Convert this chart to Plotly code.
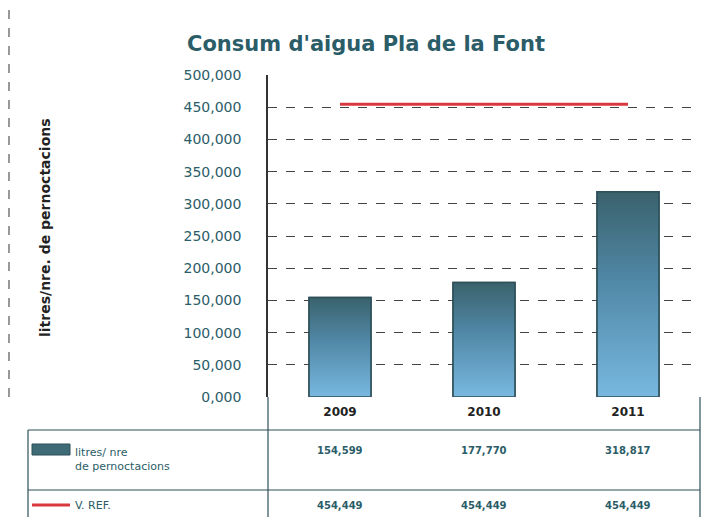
import plotly.graph_objects as go

# ---- data ----
years = ["2009", "2010", "2011"]
consum = [154599, 177770, 318817]
vref = [454449, 454449, 454449]
consum_labels = ["154,599", "177,770", "318,817"]
vref_labels = ["454,449", "454,449", "454,449"]
ytick_vals = [0, 50000, 100000, 150000, 200000, 250000, 300000, 350000, 400000, 450000, 500000]
ytick_text = ["0,000", "50,000", "100,000", "150,000", "200,000", "250,000",
              "300,000", "350,000", "400,000", "450,000", "500,000"]
title_text = "Consum d'aigua Pla de la Font"
ytitle_text = "litres/nre. de pernoctacions"
name_consum = "litres/ nre<br>de pernoctacions"
name_vref = "V. REF."

TEAL = "#2b5d68"
FONT = "DejaVu Sans"
OFF = 8  # page body margin
W, H = 709 - OFF, 517 - OFF
ML, MR, MT, MB = 268 - OFF, 9, 75 - OFF, 120
PW, PH = W - ML - MR, H - MT - MB


def px_x(p):
    return (p - OFF - ML) / PW


def px_y(p):
    return (H - MB - (p - OFF)) / PH


xs = list(range(len(years)))
bw = 0.43

fig = go.Figure()

fig.add_trace(go.Bar(x=xs, y=consum, width=bw, name="litres/ nre de pernoctacions",
                     marker=dict(color="#558fb0", line=dict(color="#2d4f58", width=1.5)),
                     showlegend=False))

# gradient overlay for each bar, built from the data values
for xi, v in zip(xs, consum):
    fig.add_trace(go.Scatter(
        x=[xi - bw / 2, xi + bw / 2, xi + bw / 2, xi - bw / 2, xi - bw / 2],
        y=[0, 0, v, v, 0], mode="lines", fill="toself",
        line=dict(color="#2d4f58", width=1.5),
        fillgradient=dict(type="vertical",
                          colorscale=[[0, "#78b8e0"], [0.55, "#5189a8"], [1, "#3a626c"]]),
        hoverinfo="skip", showlegend=False))

fig.add_trace(go.Scatter(x=xs, y=vref, mode="lines", name="V. REF.",
                         line=dict(color="#d9383f", width=3), showlegend=False))

annotations = []
shapes = []

# title
annotations.append(dict(text="<b>" + title_text + "</b>", xref="paper", yref="paper",
                        x=px_x(366), y=px_y(44), xanchor="center", yanchor="middle",
                        showarrow=False, font=dict(family=FONT, size=21, color=TEAL)))
# y title
annotations.append(dict(text="<b>" + ytitle_text + "</b>", xref="paper", yref="paper",
                        x=px_x(45), y=px_y(228), textangle=-90, xanchor="center",
                        yanchor="middle", showarrow=False,
                        font=dict(family=FONT, size=14, color="#222222")))

# data table values
for xi, t in zip(xs, consum_labels):
    annotations.append(dict(text="<b>" + t + "</b>", xref="x", yref="paper", x=xi,
                            y=px_y(450), yanchor="middle", showarrow=False,
                            font=dict(family=FONT, size=10, color=TEAL)))
for xi, t in zip(xs, vref_labels):
    annotations.append(dict(text="<b>" + t + "</b>", xref="x", yref="paper", x=xi,
                            y=px_y(505), yanchor="middle", showarrow=False,
                            font=dict(family=FONT, size=10, color=TEAL)))

# legend labels
annotations.append(dict(text=name_consum, xref="paper", yref="paper", x=px_x(73),
                        y=px_y(459), xanchor="left", yanchor="middle", align="left",
                        showarrow=False,
                        font=dict(family=FONT, size=11, color=TEAL)))
annotations.append(dict(text=name_vref, xref="paper", yref="paper", x=px_x(73),
                        y=px_y(505), xanchor="left", yanchor="middle", align="left",
                        showarrow=False,
                        font=dict(family=FONT, size=11, color=TEAL)))

# legend icons
shapes.append(dict(type="rect", xref="paper", yref="paper", x0=px_x(32), x1=px_x(70),
                   y0=px_y(455), y1=px_y(444), fillcolor="#3e6b76",
                   line=dict(color="#2d4f58", width=1)))
shapes.append(dict(type="line", xref="paper", yref="paper", x0=px_x(32), x1=px_x(70),
                   y0=px_y(505), y1=px_y(505), line=dict(color="#d9383f", width=3)))

# table lines
LC = "#2d4f58"
for xp, y0, y1 in [(28, 430, 517), (268, 397, 517), (700, 397, 517)]:
    shapes.append(dict(type="line", xref="paper", yref="paper", x0=px_x(xp), x1=px_x(xp),
                       y0=px_y(y0), y1=px_y(y1), line=dict(color=LC, width=1.2)))
for yp in [430, 490]:
    shapes.append(dict(type="line", xref="paper", yref="paper", x0=px_x(28), x1=px_x(700),
                       y0=px_y(yp), y1=px_y(yp), line=dict(color=LC, width=1.2)))

# page border (dashed)
shapes.append(dict(type="line", xref="paper", yref="paper", x0=px_x(9), x1=px_x(9),
                   y0=px_y(10), y1=px_y(400), line=dict(color="#555555", width=1.2, dash="dash")))

fig.update_layout(
    width=W, height=H,
    margin=dict(l=ML, r=MR, t=MT, b=MB),
    paper_bgcolor="white", plot_bgcolor="white",
    font=dict(family=FONT, color=TEAL),
    annotations=annotations, shapes=shapes,
    showlegend=False,
    xaxis=dict(range=[-0.5, 2.5], tickvals=xs, ticktext=["<b>" + y + "</b>" for y in years],
               tickfont=dict(family=FONT, size=12, color="#222222"),
               showgrid=False, zeroline=False, showline=False, ticks="",
               ticklabelstandoff=6),
    yaxis=dict(range=[0, 500000], tickvals=ytick_vals, ticktext=ytick_text,
               tickfont=dict(family=FONT, size=14, color=TEAL),
               showgrid=True, gridcolor="#444444", griddash="dash", gridwidth=1,
               zeroline=False, showline=True, linecolor="#333333", linewidth=1.5,
               ticks="", ticklabelstandoff=22),
)

fig.write_html("out.html")
